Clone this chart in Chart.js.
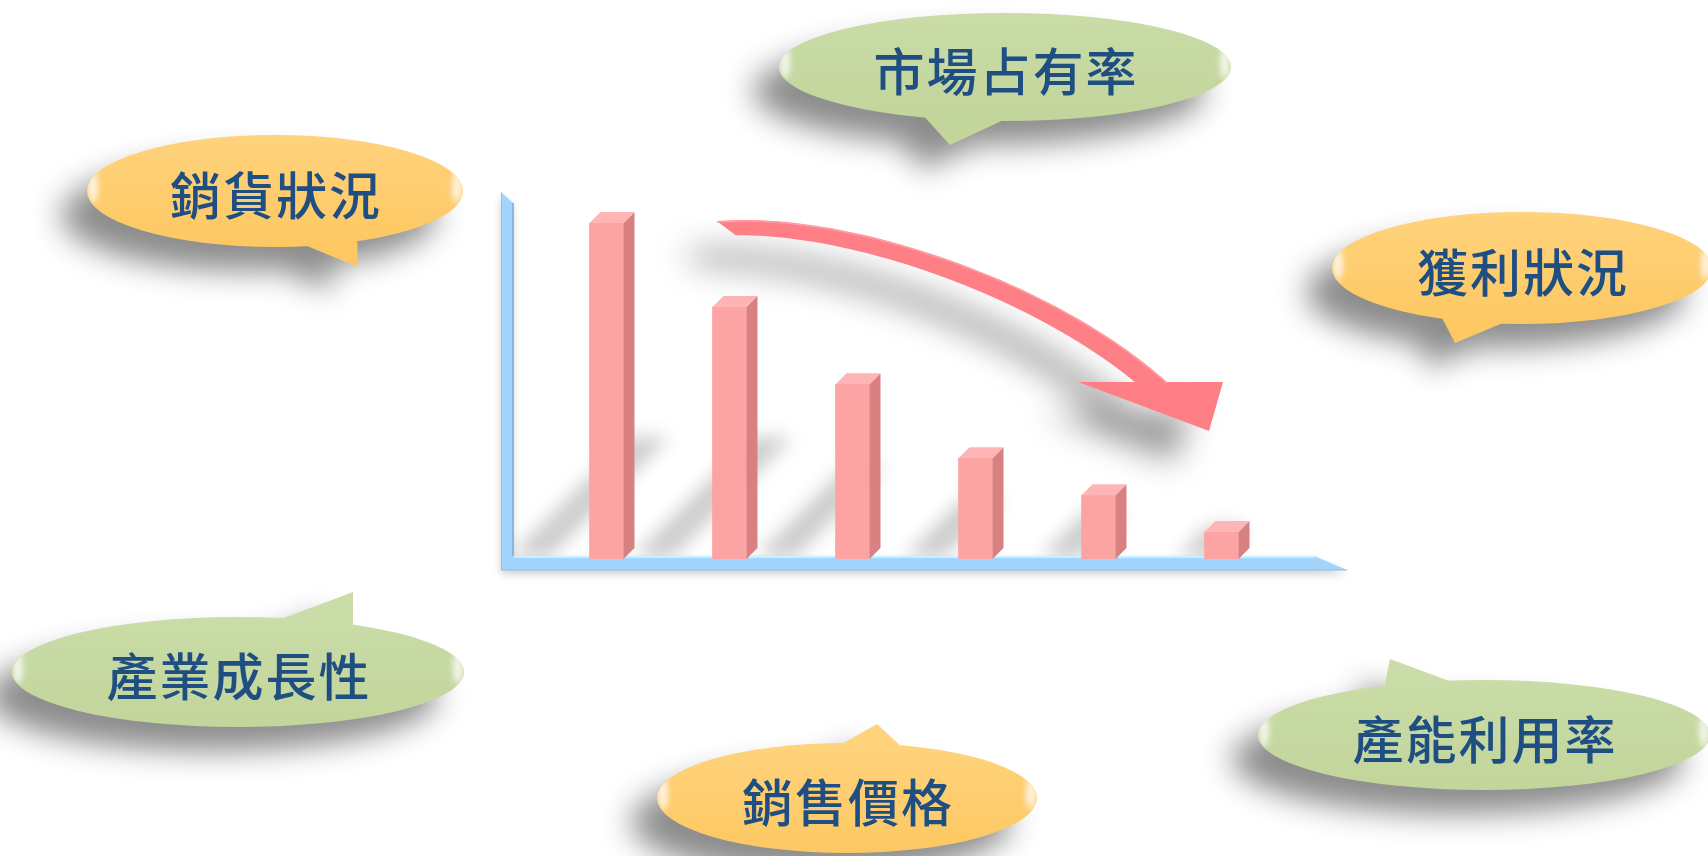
<!DOCTYPE html>
<html>
<head>
<meta charset="utf-8">
<script src="https://cdn.jsdelivr.net/npm/chart.js@4.4.1/dist/chart.umd.min.js"></script>
<style>
  html, body { margin: 0; padding: 0; background: #fff; }
  #wrap { width: 1708px; height: 856px; position: relative; }
</style>
</head>
<body>
<div id="wrap"><canvas id="bars"></canvas></div>
<script>
// data
const categories = ["第1期", "第2期", "第3期", "第4期", "第5期", "第6期"];
const values = [100, 75, 52, 30, 19, 8];
const bubbleLabels = ["市場占有率", "銷貨狀況", "獲利狀況", "產業成長性", "銷售價格", "產能利用率"];

const GREEN = ["#cadca7", "#c2d59b"];
const ORANGE = ["#ffd27c", "#fdc862"];

// speech bubbles: centre, radii, tail triangle offsets from centre
const bubbles = [
  { label: 0, col: GREEN,  cx: 1005, cy: 67,  rx: 226, ry: 54, tail: [[-85, 45], [-55, 78], [5, 50]] },
  { label: 1, col: ORANGE, cx: 275,  cy: 191, rx: 188, ry: 56, tail: [[20, 50], [83, 76], [82, 45]] },
  { label: 2, col: ORANGE, cx: 1522, cy: 268, rx: 190, ry: 56, tail: [[-82, 46], [-67, 75], [-12, 52]] },
  { label: 3, col: GREEN,  cx: 238,  cy: 672, rx: 226, ry: 55, tail: [[35, -50], [115, -80], [115, -42]] },
  { label: 4, col: ORANGE, cx: 847,  cy: 798, rx: 190, ry: 55, tail: [[-12, -50], [30, -74], [58, -48]] },
  { label: 5, col: GREEN,  cx: 1484, cy: 735, rx: 226, ry: 55, tail: [[-101, -42], [-94, -76], [-24, -50]] }
];

function fixWinding(pts) {
  let s = 0;
  for (let i = 0; i < pts.length; i++) {
    const [x1, y1] = pts[i], [x2, y2] = pts[(i + 1) % pts.length];
    s += x1 * y2 - x2 * y1;
  }
  return s < 0 ? pts.slice().reverse() : pts;
}

function addPoly(path, pts) {
  pts = fixWinding(pts);
  path.moveTo(pts[0][0], pts[0][1]);
  pts.slice(1).forEach(p => path.lineTo(p[0], p[1]));
  path.closePath();
}

function drawBubble(ctx, b) {
  const path = new Path2D();
  path.ellipse(b.cx, b.cy, b.rx, b.ry, 0, 0, Math.PI * 2);
  addPoly(path, b.tail.map(([dx, dy]) => [b.cx + dx, b.cy + dy]));

  ctx.save();
  ctx.shadowColor = "rgba(0,0,0,0.45)";
  ctx.shadowBlur = 30;
  ctx.shadowOffsetX = -26;
  ctx.shadowOffsetY = 24;
  const g = ctx.createLinearGradient(0, b.cy - b.ry, 0, b.cy + b.ry);
  g.addColorStop(0, b.col[0]);
  g.addColorStop(1, b.col[1]);
  ctx.fillStyle = g;
  ctx.fill(path);
  ctx.restore();

  // glossy glints at the ends
  ctx.save();
  ctx.clip(path);
  ctx.filter = "blur(3px)";
  ctx.fillStyle = "rgba(255,255,255,0.8)";
  [-1, 1].forEach(s => {
    ctx.beginPath();
    ctx.ellipse(b.cx + s * (b.rx - 6), b.cy - 4, 5, 16, 0, 0, Math.PI * 2);
    ctx.fill();
  });
  ctx.restore();

  ctx.save();
  ctx.font = '500 51px "Noto Sans CJK TC", "Noto Sans CJK SC", sans-serif';
  ctx.letterSpacing = "2px";
  ctx.fillStyle = "#1f4e82";
  ctx.textAlign = "center";
  ctx.textBaseline = "middle";
  ctx.fillText(bubbleLabels[b.label], b.cx + 1, b.cy + 5);
  ctx.restore();
}

function bezier(p0, c1, c2, p3, t) {
  const u = 1 - t;
  const a = u * u * u, b = 3 * u * u * t, c = 3 * u * t * t, d = t * t * t;
  const x = a * p0[0] + b * c1[0] + c * c2[0] + d * p3[0];
  const y = a * p0[1] + b * c1[1] + c * c2[1] + d * p3[1];
  const dx = 3 * u * u * (c1[0] - p0[0]) + 6 * u * t * (c2[0] - c1[0]) + 3 * t * t * (p3[0] - c2[0]);
  const dy = 3 * u * u * (c1[1] - p0[1]) + 6 * u * t * (c2[1] - c1[1]) + 3 * t * t * (p3[1] - c2[1]);
  const len = Math.hypot(dx, dy);
  return { x, y, tx: dx / len, ty: dy / len };
}

function drawArrow(ctx, a) {
  const L = a.left, T = a.top;
  const p0 = [L + 182, T + 5], c1 = [L + 305, T - 1], c2 = [L + 505, T + 67], p3 = [L + 615, T + 167];
  const upper = [], lower = [];
  const n = 48;
  for (let i = 0; i <= n; i++) {
    const t = i / n;
    const p = bezier(p0, c1, c2, p3, t);
    const w = (15 + 6 * t) / 2;
    const ux = p.ty, uy = -p.tx;
    const back = i === 0 ? -10 : 0;
    const fwd = i === 0 ? 8 : 0;
    upper.push([p.x + ux * w + p.tx * back, p.y + uy * w + p.ty * back]);
    lower.push([p.x - ux * w + p.tx * fwd, p.y - uy * w + p.ty * fwd]);
  }
  const shaft = upper.concat(lower.slice().reverse());
  const head = [[L + 533, T + 159], [L + 678, T + 159], [L + 664, T + 208]];
  const path = new Path2D();
  addPoly(path, shaft);
  addPoly(path, head);

  // soft drop shadow
  ctx.save();
  ctx.filter = "blur(16px)";
  ctx.translate(-34, 30);
  ctx.fillStyle = "rgba(0,0,0,0.42)";
  ctx.fill(path);
  ctx.restore();

  ctx.save();
  ctx.fillStyle = "#ff7f86";
  ctx.fill(path);
  ctx.restore();

  ctx.save();
  ctx.strokeStyle = "rgba(255,170,175,0.7)";
  ctx.lineWidth = 1.5;
  ctx.beginPath();
  upper.forEach((p, i) => i ? ctx.lineTo(p[0], p[1] + 1) : ctx.moveTo(p[0], p[1] + 1));
  ctx.stroke();
  ctx.restore();
}

const deco = {
  id: "deco",
  beforeDatasetsDraw(chart) {
    const { ctx, chartArea: a } = chart;
    const meta = chart.getDatasetMeta(0);
    const outer = a.left - 44, inner = a.left - 32;
    const axTop = a.bottom - 3, axBot = a.bottom + 11;

    // slanted floor shadows of the bars
    ctx.save();
    ctx.filter = "blur(9px)";
    ctx.fillStyle = "rgba(0,0,0,0.2)";
    meta.data.forEach(bar => {
      const h = bar.base - bar.y;
      const dy = Math.min(120, 0.4 * h + 20);
      const shift = Math.min(80, dy * 0.9);
      const l = bar.x - bar.width / 2 - shift, r = bar.x + bar.width / 2 + 6 - shift;
      ctx.beginPath();
      ctx.moveTo(l, bar.base - 2);
      ctx.lineTo(r, bar.base - 2);
      ctx.lineTo(r + dy, bar.base - 2 - dy);
      ctx.lineTo(l + dy, bar.base - 2 - dy);
      ctx.closePath();
      ctx.fill();
    });
    ctx.restore();

    // axes
    ctx.save();
    ctx.shadowColor = "rgba(0,0,0,0.2)";
    ctx.shadowBlur = 8;
    ctx.shadowOffsetY = 4;
    ctx.beginPath();
    ctx.moveTo(outer, a.top - 31);
    ctx.lineTo(inner, a.top - 20);
    ctx.lineTo(inner, axTop);
    ctx.lineTo(a.right + 31, axTop);
    ctx.lineTo(a.right + 64, axBot);
    ctx.lineTo(outer, axBot);
    ctx.closePath();
    ctx.fillStyle = "#a3d4fb";
    ctx.fill();
    ctx.restore();

    ctx.save();
    ctx.lineWidth = 1.5;
    ctx.strokeStyle = "#7fa9d3";
    ctx.beginPath();
    ctx.moveTo(inner, a.top - 20);
    ctx.lineTo(inner, axTop);
    ctx.stroke();
    ctx.strokeStyle = "#c6f0fe";
    ctx.lineWidth = 2;
    ctx.beginPath();
    ctx.moveTo(inner + 1, axTop + 1);
    ctx.lineTo(a.right + 31, axTop + 1);
    ctx.stroke();
    ctx.strokeStyle = "#8dbde8";
    ctx.lineWidth = 1;
    ctx.beginPath();
    ctx.moveTo(outer + 0.5, a.top - 31);
    ctx.lineTo(outer + 0.5, axBot);
    ctx.lineTo(a.right + 64, axBot);
    ctx.stroke();
    ctx.restore();
  },
  afterDatasetsDraw(chart) {
    const { ctx, chartArea: a } = chart;
    const meta = chart.getDatasetMeta(0);
    const d = 11;
    ctx.save();
    meta.data.forEach(bar => {
      const l = bar.x - bar.width / 2, r = bar.x + bar.width / 2;
      ctx.fillStyle = "#d98181";
      ctx.beginPath();
      ctx.moveTo(r, bar.y);
      ctx.lineTo(r + d, bar.y - d);
      ctx.lineTo(r + d, bar.base - d);
      ctx.lineTo(r, bar.base);
      ctx.closePath();
      ctx.fill();
      ctx.fillStyle = "#ffb4b5";
      ctx.beginPath();
      ctx.moveTo(l, bar.y);
      ctx.lineTo(l + d, bar.y - d);
      ctx.lineTo(r + d, bar.y - d);
      ctx.lineTo(r, bar.y);
      ctx.closePath();
      ctx.fill();
    });
    ctx.restore();
    drawArrow(ctx, a);
  },
  afterDraw(chart) {
    bubbles.forEach(b => drawBubble(chart.ctx, b));
  }
};

new Chart(document.getElementById("bars"), {
  type: "bar",
  data: {
    labels: categories,
    datasets: [
      {
        data: values,
        backgroundColor: "#fca3a4",
        borderWidth: 0,
        barThickness: 34
      }
    ]
  },
  options: {
    responsive: true,
    maintainAspectRatio: false,
    animation: false,
    layout: { padding: { left: 545, right: 425, top: 223, bottom: 297 } },
    scales: {
      x: { display: false },
      y: { display: false, min: 0, max: 100 }
    },
    plugins: {
      legend: { display: false },
      tooltip: { enabled: false }
    }
  },
  plugins: [deco]
});
</script>
</body>
</html>
